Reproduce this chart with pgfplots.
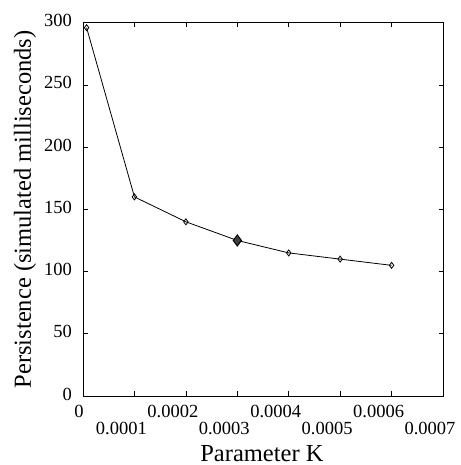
\documentclass[border=0pt]{standalone}
\usepackage{fontspec}
\setmainfont{Liberation Serif}
\usepackage{pgfplots}
\pgfplotsset{compat=1.18}
\begin{document}
\begin{tikzpicture}
\begin{axis}[
  name=main,
  scale only axis, width=360pt, height=373.3pt,
  xmin=0, xmax=0.0007, ymin=0, ymax=300,
  scaled x ticks=false,
  axis line style={line width=0.6pt},
  tick align=inside, major tick length=4.5pt,
  tick style={line width=0.6pt, black},
  xtick={0,0.0002,0.0004,0.0006},
  xticklabels={\hspace*{18pt}0,0.0002,0.0004,0.0006},
  extra x ticks={0.0001,0.0003,0.0005,0.0007},
  extra x tick labels={0.0001,0.0003,0.0005,0.0007},
  xticklabel style={anchor=north, yshift=-6pt, xshift=-13pt},
  extra x tick style={xticklabel style={yshift=-17pt}},
  ytick={0,50,...,300},
  yticklabels={0,50,100,150,200,250,300},
  yticklabel style={xshift=-7.5pt, yshift=2pt},
  tick label style={font=\fontsize{18.5}{20}\selectfont},
  /pgf/number format/assume math mode=true,
  xlabel={Parameter K},
  ylabel={Persistence (simulated milliseconds)},
  label style={font=\fontsize{24.5}{28}\selectfont},
  xlabel style={at={(axis description cs:0.497,-0.153)}, anchor=center},
  ylabel style={at={(axis description cs:-0.161,0.5)}, anchor=center, rotate=0},
]
\addplot[black, line width=0.8pt, mark=diamond, mark size=3pt, mark options={fill=white, line width=0.8pt}]
  coordinates {(0.000007,296) (0.0001,160) (0.0002,140) (0.0003,125) (0.0004,115) (0.0005,110) (0.0006,105)};
\addplot[only marks, mark=diamond*, mark size=5.5pt, mark options={fill=black!75, draw=black, line width=1pt}]
  coordinates {(0.0003,125)};
\end{axis}
\path (main.south west) ++(-83pt,-69pt) rectangle ++(460pt,465pt);
\end{tikzpicture}
\end{document}
